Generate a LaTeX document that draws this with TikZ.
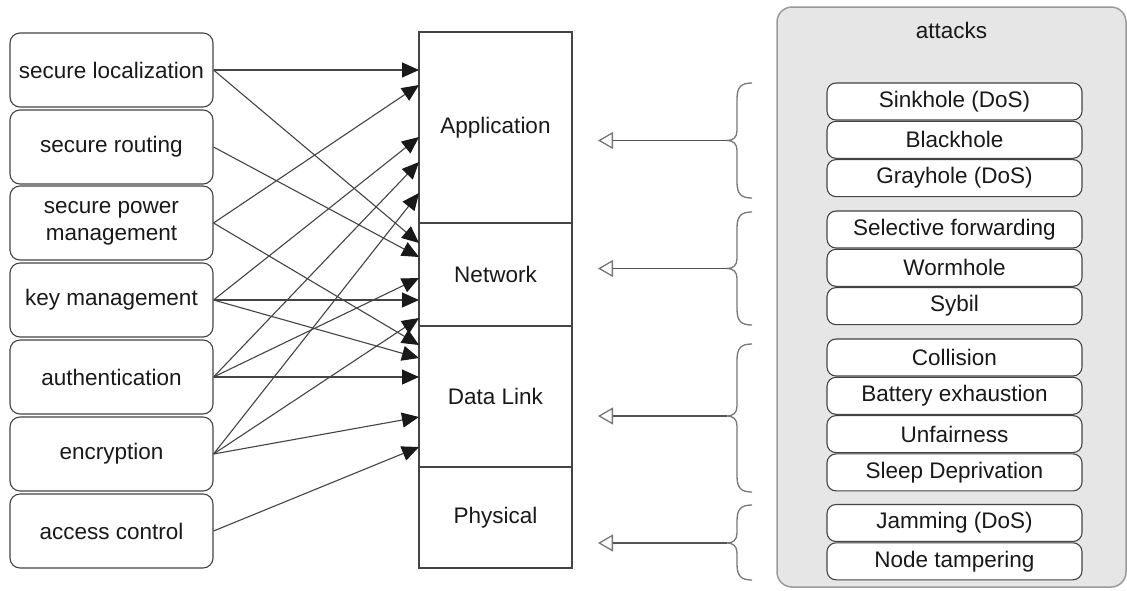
\documentclass[tikz,border=0pt]{standalone}
\usepackage{fontspec}
\setmainfont{Liberation Sans}
\usetikzlibrary{arrows.meta}
\definecolor{linegray}{HTML}{444444}
\definecolor{panelgray}{HTML}{E6E6E6}
\definecolor{paneledge}{HTML}{9A9A9A}
\definecolor{bracegray}{HTML}{777777}
\definecolor{shaftgray}{HTML}{555555}
% curly brace opening to the right, tip pointing left: top, bottom, tip height
\newcommand\layerbrace[3]{%
  \draw[brace] (752,#1) .. controls (741,#1) and (737,#1+4) .. (737,#1+16)
    -- (737,#3-10) .. controls (737,#3-3) and (733,#3) .. (727,#3)
    .. controls (733,#3) and (737,#3+3) .. (737,#3+10)
    -- (737,#2-16) .. controls (737,#2-4) and (741,#2) .. (752,#2);}
\begin{document}
\begin{tikzpicture}[x=1pt,y=-1pt,
  every node/.style={font=\fontsize{22.5}{27}\selectfont, text=black!90},
  secbox/.style={draw=linegray, line width=1.1pt, rounded corners=10pt,
    minimum width=203pt, minimum height=74pt, inner sep=0pt, align=center, fill=white},
  layerbox/.style={draw=linegray, line width=1.1pt, minimum width=153pt, inner sep=0pt},
  atkbox/.style={draw=linegray, line width=1.1pt, rounded corners=9pt,
    minimum width=255pt, minimum height=37pt, inner sep=0pt, fill=white},
  panel/.style={draw=paneledge, fill=panelgray, line width=1.5pt, rounded corners=15pt,
    minimum width=349pt, minimum height=580pt, inner sep=0pt},
  arr/.style={-{Triangle[length=17pt,width=15pt,color=black!90]}, line width=1.1pt, draw=linegray},
  hollow/.style={-{Triangle[open,length=15pt,width=17pt,color=bracegray]}, line width=1.3pt, draw=shaftgray},
  brace/.style={draw=bracegray, line width=1.3pt},
]
\fill[white] (0,0) rectangle (1127,590);
\path[use as bounding box] (0,0) rectangle (1127,590);

% security services
\node[secbox] (loc)  at (111.5,70)  {secure localization};
\node[secbox] (rout) at (111.5,147) {secure routing};
\node[secbox] (pwr)  at (111.5,223) {secure power\\management};
\node[secbox] (key)  at (111.5,300) {key management};
\node[secbox] (auth) at (111.5,377) {authentication};
\node[secbox] (enc)  at (111.5,454) {encryption};
\node[secbox] (acc)  at (111.5,531) {access control};

% protocol layers
\node[layerbox, minimum height=191pt] (app) at (495.5,127.5) {Application};
\node[layerbox, minimum height=103pt] (net) at (495.5,274.5) {Network};
\node[layerbox, minimum height=141pt] (dl)  at (495.5,396.5) {Data Link};
\node[layerbox, minimum height=101pt] (phy) at (495.5,517.5) {Physical};

% arrival points on the left edge of the layer stack
\foreach \n/\yy in {t70/70, t85/85, t137/137, t162/162, t193/193,
                    t243/243, t257/257, t278/278, t300/300, t318/318,
                    t345/345, t358/358, t377/377, t417/417, t447/447}
  \coordinate (\n) at (419,\yy);

\draw[arr] (loc.east)  -- (t70);
\draw[arr] (loc.east)  -- (t243);
\draw[arr] (rout.east) -- (t257);
\draw[arr] (pwr.east)  -- (t85);
\draw[arr] (pwr.east)  -- (t345);
\draw[arr] (key.east)  -- (t137);
\draw[arr] (key.east)  -- (t300);
\draw[arr] (key.east)  -- (t358);
\draw[arr] (auth.east) -- (t162);
\draw[arr] (auth.east) -- (t278);
\draw[arr] (auth.east) -- (t377);
\draw[arr] (enc.east)  -- (t193);
\draw[arr] (enc.east)  -- (t318);
\draw[arr] (enc.east)  -- (t417);
\draw[arr] (acc.east)  -- (t447);

% attacks panel
\node[panel] (panel) at (951.5,297) {};
\node (attacks) at (951.5,30) {attacks};

\node[atkbox] (sink)  at (954.5,101.5) {Sinkhole (DoS)};
\node[atkbox] (black) at (954.5,139.8) {Blackhole};
\node[atkbox] (gray)  at (954.5,178.1) {Grayhole (DoS)};
\node[atkbox] (sel)   at (954.5,229.5) {Selective forwarding};
\node[atkbox] (worm)  at (954.5,267.8) {Wormhole};
\node[atkbox] (sybil) at (954.5,306.1) {Sybil};
\node[atkbox] (coll)  at (954.5,357.5) {Collision};
\node[atkbox] (batt)  at (954.5,395.8) {Battery exhaustion};
\node[atkbox] (unf)   at (954.5,434.1) {Unfairness};
\node[atkbox] (sleep) at (954.5,472.4) {Sleep Deprivation};
\node[atkbox] (jam)   at (954.5,523)   {Jamming (DoS)};
\node[atkbox] (tamp)  at (954.5,561.3) {Node tampering};

% braces grouping attacks per layer
\layerbrace{83}{198}{140.5}
\layerbrace{212}{325}{268.5}
\layerbrace{344}{492}{416}
\layerbrace{505}{580}{543}

\coordinate (b1) at (727,140.5); \coordinate (h1) at (598,140.5);
\coordinate (b2) at (727,268.5); \coordinate (h2) at (598,268.5);
\coordinate (b3) at (727,416);   \coordinate (h3) at (598,416);
\coordinate (b4) at (727,543);   \coordinate (h4) at (598,543);
\draw[hollow] (b1) -- (h1);
\draw[hollow] (b2) -- (h2);
\draw[hollow] (b3) -- (h3);
\draw[hollow] (b4) -- (h4);
\end{tikzpicture}
\end{document}
